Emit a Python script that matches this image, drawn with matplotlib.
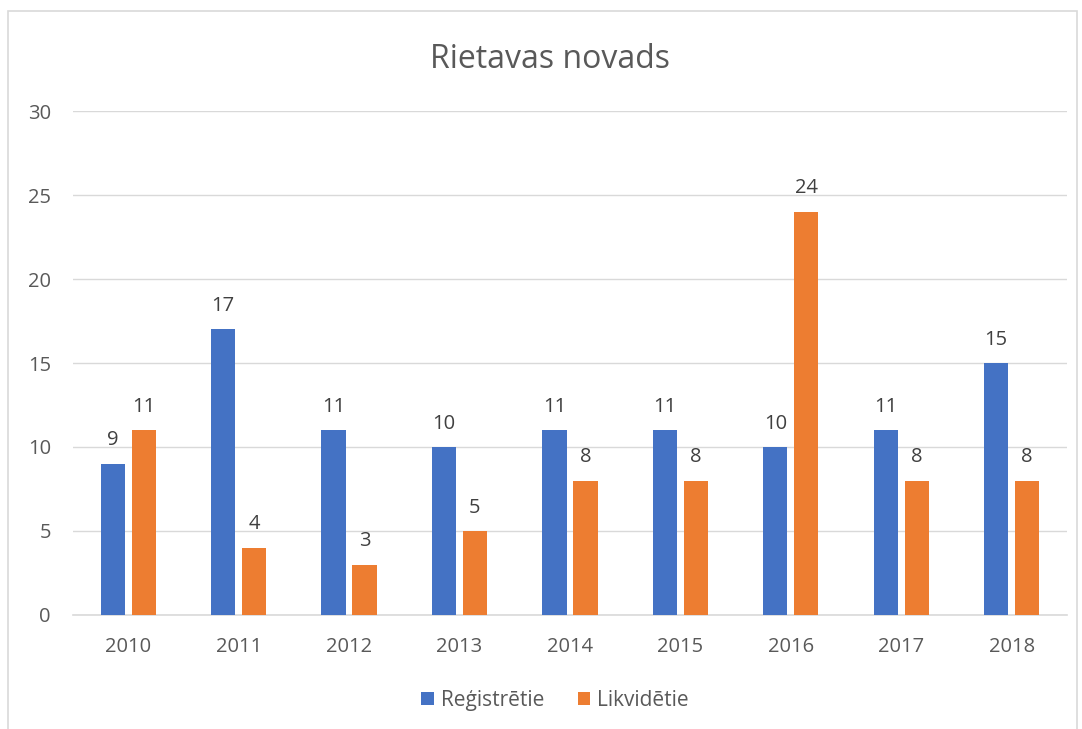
import matplotlib
matplotlib.use("Agg")
import matplotlib.pyplot as plt
import numpy as np
from matplotlib.patches import Rectangle

# data
years = ['2010', '2011', '2012', '2013', '2014', '2015', '2016', '2017', '2018']
registretie = [9, 17, 11, 10, 11, 11, 10, 11, 15]
likviditie = [11, 4, 3, 5, 8, 8, 24, 8, 8]

blue = '#4472C4'
orange = '#ED7D31'
txt = '#595959'
grid = '#D9D9D9'

plt.rcParams['font.family'] = ['Open Sans', 'DejaVu Sans']

fig = plt.figure(figsize=(10.82, 7.29), dpi=100)
ax = fig.add_axes([0.0675, 0.1564, 0.9185, 0.6913])

# outer chart border
fig.patches.append(Rectangle((8 / 1082, -0.01), 1069 / 1082, 1 - 11 / 729 + 0.01,
                             transform=fig.transFigure, fill=False,
                             edgecolor=grid, lw=1.2))

x = np.arange(len(years))
w = 0.22
off = 0.14
b1 = ax.bar(x - off, registretie, w, color=blue, label='Reģistrētie', zorder=3)
b2 = ax.bar(x + off, likviditie, w, color=orange, label='Likvidētie', zorder=3)

for bars in (b1, b2):
    for b in bars:
        ax.text(b.get_x() + b.get_width() / 2, b.get_height() + 0.8,
                str(int(b.get_height())), ha='center', va='bottom',
                fontsize=14.5, color='#404040')

ax.set_xlim(-0.5, len(years) - 0.5)
ax.set_ylim(0, 30)
ax.set_yticks(range(0, 31, 5))
ax.set_xticks(x)
ax.set_xticklabels(years)
ax.tick_params(axis='both', length=0, labelsize=14.5, labelcolor=txt)
ax.tick_params(axis='y', pad=16)
ax.tick_params(axis='x', pad=16)

ax.grid(axis='y', color=grid, lw=1, zorder=0)
for s in ['top', 'right', 'left']:
    ax.spines[s].set_visible(False)
ax.spines['bottom'].set_color(grid)
ax.spines['bottom'].set_linewidth(1.2)

fig.text(0.508, 0.918, 'Rietavas novads', ha='center', va='center',
         fontsize=23, color=txt)

fig.legend(handles=[b1, b2], loc='center', bbox_to_anchor=(0.513, 0.039),
           ncol=2, frameon=False, fontsize=15, labelcolor=txt,
           handlelength=0.6, handleheight=0.6, handletextpad=0.35,
           columnspacing=1.6)

fig.savefig('out.png', dpi=100)
